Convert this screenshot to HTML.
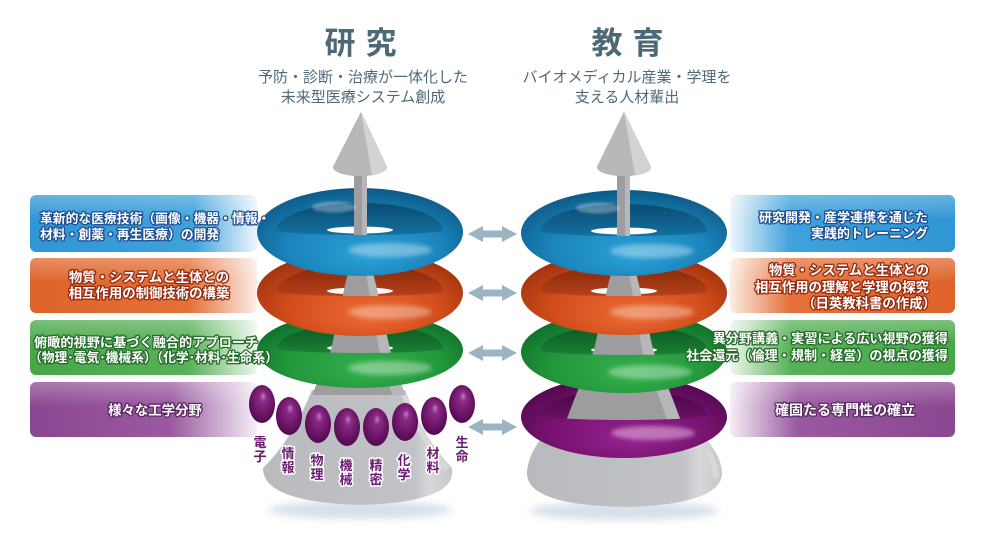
<!DOCTYPE html>
<html><head><meta charset="utf-8">
<style>
html,body{margin:0;padding:0;background:#fff;}
svg{display:block;}
text{font-family:"Liberation Sans","Noto Sans CJK JP",sans-serif;}
.bt{font-weight:bold;fill:#fff;stroke-width:2.6px;paint-order:stroke;stroke-linejoin:round;}
.bl{font-weight:bold;font-size:13px;fill:#6a1a70;stroke:#fff;stroke-width:3px;paint-order:stroke;stroke-linejoin:round;}
</style></head><body>
<svg width="987" height="537" viewBox="0 0 987 537" xmlns="http://www.w3.org/2000/svg">
<defs>
  <filter id="blur2" x="-20%" y="-50%" width="140%" height="200%"><feGaussianBlur stdDeviation="2"/></filter>
  <filter id="blur1" x="-20%" y="-50%" width="140%" height="200%"><feGaussianBlur stdDeviation="1.2"/></filter>
  <filter id="blur4" x="-20%" y="-50%" width="140%" height="200%"><feGaussianBlur stdDeviation="4"/></filter>

  <radialGradient id="tbB" cx=".5" cy=".62" r=".62" fx=".56" fy=".78"><stop offset="0" stop-color="#2ca2d8"/><stop offset=".6" stop-color="#1a85bc"/><stop offset="1" stop-color="#0d5986"/></radialGradient>
  <radialGradient id="tbO" cx=".5" cy=".62" r=".62" fx=".56" fy=".78"><stop offset="0" stop-color="#ee6d36"/><stop offset=".6" stop-color="#d24d1b"/><stop offset="1" stop-color="#9a2f0c"/></radialGradient>
  <radialGradient id="tbG" cx=".5" cy=".62" r=".62" fx=".56" fy=".78"><stop offset="0" stop-color="#38b250"/><stop offset=".6" stop-color="#22983b"/><stop offset="1" stop-color="#0e6a29"/></radialGradient>
  <radialGradient id="tbP" cx=".5" cy=".62" r=".62" fx=".56" fy=".78"><stop offset="0" stop-color="#962390"/><stop offset=".6" stop-color="#791372"/><stop offset="1" stop-color="#50084c"/></radialGradient>

  <linearGradient id="tlB" x1="0" y1="0" x2="0" y2="1"><stop offset="0" stop-color="#0a4b72"/><stop offset="1" stop-color="#13709e"/></linearGradient>
  <linearGradient id="tlO" x1="0" y1="0" x2="0" y2="1"><stop offset="0" stop-color="#842606"/><stop offset="1" stop-color="#b5411a"/></linearGradient>
  <linearGradient id="tlG" x1="0" y1="0" x2="0" y2="1"><stop offset="0" stop-color="#0b5622"/><stop offset="1" stop-color="#1a8034"/></linearGradient>
  <linearGradient id="tlP" x1="0" y1="0" x2="0" y2="1"><stop offset="0" stop-color="#470543"/><stop offset="1" stop-color="#6b1265"/></linearGradient>

  <radialGradient id="bead" cx=".5" cy=".45" r=".6" fx=".55" fy=".28"><stop offset="0" stop-color="#c07dbe"/><stop offset=".22" stop-color="#8a2a86"/><stop offset=".75" stop-color="#63105f"/><stop offset="1" stop-color="#470846"/></radialGradient>

  <linearGradient id="baseG" x1="0" y1="0" x2="1" y2="0"><stop offset="0" stop-color="#b9babd"/><stop offset=".8" stop-color="#c2c3c6"/><stop offset=".88" stop-color="#d8d8db"/><stop offset="1" stop-color="#c6c7ca"/></linearGradient>

  <linearGradient id="bxB" x1="0" y1="0" x2="1" y2="0"><stop offset="0" stop-color="#2f95d4"/><stop offset=".72" stop-color="#3ea2dc"/><stop offset="1" stop-color="#eef6fb"/></linearGradient>
  <linearGradient id="bxO" x1="0" y1="0" x2="1" y2="0"><stop offset="0" stop-color="#de632a"/><stop offset=".7" stop-color="#e47038"/><stop offset="1" stop-color="#fbeee6"/></linearGradient>
  <linearGradient id="bxG" x1="0" y1="0" x2="1" y2="0"><stop offset="0" stop-color="#47a747"/><stop offset=".7" stop-color="#58b158"/><stop offset="1" stop-color="#eef7ee"/></linearGradient>
  <linearGradient id="bxP" x1="0" y1="0" x2="1" y2="0"><stop offset="0" stop-color="#8a4791"/><stop offset=".62" stop-color="#9a59a0"/><stop offset="1" stop-color="#f5eef6"/></linearGradient>

  <linearGradient id="rxB" x1="0" y1="0" x2="1" y2="0"><stop offset="0" stop-color="#eef6fb"/><stop offset=".27" stop-color="#3ea2dc"/><stop offset="1" stop-color="#2f95d4"/></linearGradient>
  <linearGradient id="rxO" x1="0" y1="0" x2="1" y2="0"><stop offset="0" stop-color="#fbeee6"/><stop offset=".27" stop-color="#e47038"/><stop offset="1" stop-color="#de632a"/></linearGradient>
  <linearGradient id="rxG" x1="0" y1="0" x2="1" y2="0"><stop offset="0" stop-color="#eef7ee"/><stop offset=".27" stop-color="#58b158"/><stop offset="1" stop-color="#47a747"/></linearGradient>
  <linearGradient id="rxP" x1="0" y1="0" x2="1" y2="0"><stop offset="0" stop-color="#f5eef6"/><stop offset=".3" stop-color="#9a59a0"/><stop offset="1" stop-color="#8a4791"/></linearGradient>

  <linearGradient id="gloss" x1="0" y1="0" x2="0" y2="1"><stop offset="0" stop-color="#fff" stop-opacity=".28"/><stop offset=".45" stop-color="#fff" stop-opacity="0"/></linearGradient>

  <g id="colL">
    <path d="M354,170 L367,170 L367,250 L376,285 L390,350 L405,395 L312,395 L331,350 L345,285 L354,250 Z" fill="#9d9da0"/>
    <path d="M362,170 L367,170 L367,250 L376,285 L390,350 L405,395 L392,395 L379,350 L368,285 L362,250 Z" fill="#b7b7ba"/>
    <path d="M361,112 L333,167 A27 9 0 0 0 387,167 Z" fill="#b8b8bb"/>
    <path d="M361,112 L372,175 A27 9 0 0 0 387,167 Z" fill="#d3d3d6"/>
  </g>
  <g id="colR">
    <path d="M617,170 L630,170 L630,250 L639,285 L653,350 L673,400 L690,445 L557,445 L574,400 L594,350 L608,285 L617,250 Z" fill="#9d9da0"/>
    <path d="M625,170 L630,170 L630,250 L639,285 L653,350 L673,400 L690,445 L676,445 L660,400 L642,350 L631,285 L625,250 Z" fill="#b7b7ba"/>
    <path d="M624,112 L597,167 A27 9 0 0 0 651,167 Z" fill="#b8b8bb"/>
    <path d="M624,112 L635,175 A27 9 0 0 0 651,167 Z" fill="#d3d3d6"/>
  </g>

  <clipPath id="cL1"><path d="M277,230 A83 5 0 0 0 443,230 L443,0 L277,0 Z"/></clipPath>
  <clipPath id="cL2"><path d="M277,291 A83 5 0 0 0 443,291 L443,0 L277,0 Z"/></clipPath>
  <clipPath id="cL3"><path d="M277,348 A83 5 0 0 0 443,348 L443,0 L277,0 Z"/></clipPath>
  <clipPath id="cR1"><path d="M541,231 A83 5 0 0 0 707,231 L707,0 L541,0 Z"/></clipPath>
  <clipPath id="cR2"><path d="M541,291 A83 5 0 0 0 707,291 L707,0 L541,0 Z"/></clipPath>
  <clipPath id="cR3"><path d="M541,350 A83 5 0 0 0 707,350 L707,0 L541,0 Z"/></clipPath>
  <clipPath id="cR4"><path d="M541,415 A83 5 0 0 0 707,415 L707,0 L541,0 Z"/></clipPath>
</defs>

<!-- Titles -->
<g font-weight="bold" font-size="31" fill="#4d6978">
  <text x="340" y="54" text-anchor="middle">研</text>
  <text x="381" y="54" text-anchor="middle">究</text>
  <text x="607" y="54" text-anchor="middle">教</text>
  <text x="648" y="54" text-anchor="middle">育</text>
</g>
<g font-size="15" fill="#4e6a78" text-anchor="middle">
  <text x="363" y="82">予防・診断・治療が一体化した</text>
  <text x="363" y="102">未来型医療システム創成</text>
  <text x="627" y="82">バイオメディカル産業・学理を</text>
  <text x="627" y="102">支える人材輩出</text>
</g>

<!-- Left boxes -->
<rect x="30" y="195" width="227" height="57" rx="6" fill="url(#bxB)"/>
<rect x="30" y="258" width="227" height="55" rx="6" fill="url(#bxO)"/>
<rect x="30" y="320" width="227" height="55" rx="6" fill="url(#bxG)"/>
<rect x="30" y="382" width="227" height="55" rx="6" fill="url(#bxP)"/>
<rect x="30" y="195" width="227" height="57" rx="6" fill="url(#gloss)"/>
<rect x="30" y="258" width="227" height="55" rx="6" fill="url(#gloss)"/>
<rect x="30" y="320" width="227" height="55" rx="6" fill="url(#gloss)"/>
<rect x="30" y="382" width="227" height="55" rx="6" fill="url(#gloss)"/>

<!-- Right boxes -->
<rect x="730" y="195" width="225" height="57" rx="6" fill="url(#rxB)"/>
<rect x="730" y="258" width="225" height="55" rx="6" fill="url(#rxO)"/>
<rect x="730" y="320" width="225" height="55" rx="6" fill="url(#rxG)"/>
<rect x="730" y="382" width="225" height="55" rx="6" fill="url(#rxP)"/>
<rect x="730" y="195" width="225" height="57" rx="6" fill="url(#gloss)"/>
<rect x="730" y="258" width="225" height="55" rx="6" fill="url(#gloss)"/>
<rect x="730" y="320" width="225" height="55" rx="6" fill="url(#gloss)"/>
<rect x="730" y="382" width="225" height="55" rx="6" fill="url(#gloss)"/>

<!-- Arrows -->
<g fill="#9ab4c1">
  <path d="M468,234 L483,226 L483,230.5 L502,230.5 L502,226 L517,234 L502,242 L502,237.5 L483,237.5 L483,242 Z"/>
  <path d="M468,293 L483,285 L483,289.5 L502,289.5 L502,285 L517,293 L502,301 L502,296.5 L483,296.5 L483,301 Z"/>
  <path d="M468,353 L483,345 L483,349.5 L502,349.5 L502,345 L517,353 L502,361 L502,356.5 L483,356.5 L483,361 Z"/>
  <path d="M468,427 L483,419 L483,423.5 L502,423.5 L502,419 L517,427 L502,435 L502,430.5 L483,430.5 L483,435 Z"/>
</g>

<!-- LEFT STACK -->
<ellipse cx="360" cy="510" rx="92" ry="9" fill="#d6e0ea" filter="url(#blur4)"/>
<path d="M312,390 L405,390 Q 425,440 452,468 Q 458,502 360,505 Q 262,502 263,468 Q 292,440 312,390 Z" fill="url(#baseG)"/>
<path d="M404,395 Q 423,441 447,469" stroke="#d8d8db" stroke-width="6" fill="none"/>
<use href="#colL"/>

<!-- green L -->
<ellipse cx="360" cy="350" rx="103" ry="38" fill="url(#tbG)"/>
<path d="M277,348 A83 24 0 0 1 443,348 A83 5 0 0 1 277,348 Z" fill="url(#tlG)"/>
<ellipse cx="360" cy="348" rx="33" ry="3.5" fill="#fff"/>
<use href="#colL" clip-path="url(#cL3)"/>
<ellipse cx="390" cy="368" rx="42" ry="7" fill="#fff" opacity=".35" filter="url(#blur2)"/>
<ellipse cx="332" cy="327" rx="22" ry="5" fill="#fff" opacity=".25" filter="url(#blur1)"/>

<!-- beads -->
<g fill="url(#bead)">
  <ellipse cx="262" cy="404" rx="13" ry="19"/>
  <ellipse cx="289" cy="416" rx="13" ry="19"/>
  <ellipse cx="318" cy="424" rx="13" ry="19"/>
  <ellipse cx="347" cy="427" rx="13" ry="19"/>
  <ellipse cx="376" cy="427" rx="13" ry="19"/>
  <ellipse cx="405" cy="422" rx="13" ry="19"/>
  <ellipse cx="434" cy="416" rx="13" ry="19"/>
  <ellipse cx="462" cy="404" rx="13" ry="19"/>
</g>
<g class="bl" text-anchor="middle">
  <text x="260" y="447">電</text><text x="260" y="461">子</text>
  <text x="288" y="458">情</text><text x="288" y="472">報</text>
  <text x="317" y="465">物</text><text x="317" y="479">理</text>
  <text x="346" y="470">機</text><text x="346" y="484">械</text>
  <text x="376" y="470">精</text><text x="376" y="484">密</text>
  <text x="404" y="465">化</text><text x="404" y="479">学</text>
  <text x="433" y="458">材</text><text x="433" y="472">料</text>
  <text x="462" y="447">生</text><text x="462" y="461">命</text>
</g>

<!-- orange L -->
<ellipse cx="360" cy="293" rx="103" ry="43" fill="url(#tbO)"/>
<path d="M277,291 A83 27 0 0 1 443,291 A83 5 0 0 1 277,291 Z" fill="url(#tlO)"/>
<ellipse cx="360" cy="291" rx="33" ry="3.5" fill="#fff"/>
<use href="#colL" clip-path="url(#cL2)"/>
<ellipse cx="390" cy="312" rx="42" ry="7" fill="#fff" opacity=".33" filter="url(#blur2)"/>
<ellipse cx="332" cy="268" rx="22" ry="5" fill="#fff" opacity=".22" filter="url(#blur1)"/>

<!-- blue L -->
<ellipse cx="360" cy="232" rx="103" ry="44" fill="url(#tbB)"/>
<path d="M277,230 A83 27 0 0 1 443,230 A83 5 0 0 1 277,230 Z" fill="url(#tlB)"/>
<ellipse cx="360" cy="230" rx="33" ry="3.5" fill="#fff"/>
<use href="#colL" clip-path="url(#cL1)"/>
<ellipse cx="390" cy="250" rx="42" ry="7" fill="#fff" opacity=".35" filter="url(#blur2)"/>
<ellipse cx="334" cy="207" rx="22" ry="5.5" fill="#fff" opacity=".3" filter="url(#blur1)"/>

<!-- RIGHT STACK -->
<ellipse cx="624" cy="511" rx="95" ry="9" fill="#d6e0ea" filter="url(#blur4)"/>
<path d="M540,440 L707,440 Q 722,458 722,474 Q 720,505 624,507 Q 528,505 527,474 Q 527,458 540,440 Z" fill="url(#baseG)"/>
<path d="M706,450 Q 716,462 716,478" stroke="#d8d8db" stroke-width="6" fill="none"/>
<use href="#colR"/>

<!-- purple R -->
<ellipse cx="624" cy="417" rx="103" ry="41" fill="url(#tbP)"/>
<path d="M541,415 A83 25 0 0 1 707,415 A83 5 0 0 1 541,415 Z" fill="url(#tlP)"/>
<use href="#colR" clip-path="url(#cR4)"/>
<ellipse cx="653" cy="433" rx="42" ry="7" fill="#f0c8ee" opacity=".5" filter="url(#blur2)"/>

<!-- green R -->
<ellipse cx="624" cy="352" rx="103" ry="41" fill="url(#tbG)"/>
<path d="M541,350 A83 25 0 0 1 707,350 A83 5 0 0 1 541,350 Z" fill="url(#tlG)"/>
<ellipse cx="624" cy="350" rx="33" ry="3.5" fill="#fff"/>
<use href="#colR" clip-path="url(#cR3)"/>
<ellipse cx="650" cy="372" rx="42" ry="7" fill="#fff" opacity=".35" filter="url(#blur2)"/>

<!-- orange R -->
<ellipse cx="624" cy="293" rx="103" ry="42" fill="url(#tbO)"/>
<path d="M541,291 A83 26 0 0 1 707,291 A83 5 0 0 1 541,291 Z" fill="url(#tlO)"/>
<ellipse cx="624" cy="291" rx="33" ry="3.5" fill="#fff"/>
<use href="#colR" clip-path="url(#cR2)"/>
<ellipse cx="652" cy="312" rx="42" ry="7" fill="#fff" opacity=".33" filter="url(#blur2)"/>
<ellipse cx="596" cy="268" rx="22" ry="5" fill="#fff" opacity=".22" filter="url(#blur1)"/>

<!-- blue R -->
<ellipse cx="624" cy="233" rx="103" ry="43" fill="url(#tbB)"/>
<path d="M541,231 A83 27 0 0 1 707,231 A83 5 0 0 1 541,231 Z" fill="url(#tlB)"/>
<ellipse cx="624" cy="231" rx="33" ry="3.5" fill="#fff"/>
<use href="#colR" clip-path="url(#cR1)"/>
<ellipse cx="652" cy="251" rx="42" ry="7" fill="#fff" opacity=".35" filter="url(#blur2)"/>
<ellipse cx="598" cy="208" rx="22" ry="5.5" fill="#fff" opacity=".3" filter="url(#blur1)"/>

<!-- Box texts left -->
<g class="bt" stroke="#1d4f94" font-size="12.8">
  <text x="40" y="223">革新的な医療技術（画像・機器・情報・</text>
  <text x="40" y="239">材料・創薬・再生医療）の開発</text>
</g>
<g class="bt" stroke="#952b10" font-size="13.4" text-anchor="middle">
  <text x="149" y="282">物質・システムと生体との</text>
  <text x="149" y="298">相互作用の制御技術の構築</text>
</g>
<g class="bt" stroke="#236a28" font-size="13.2">
  <text x="34" y="347">俯瞰的視野に基づく融合的アプローチ</text>
  <text x="29" y="362" textLength="249" lengthAdjust="spacingAndGlyphs">（物理･電気･機械系）（化学･材料･生命系）</text>
</g>
<g class="bt" stroke="#5a2862" font-size="13.4" text-anchor="middle">
  <text x="155" y="415">様々な工学分野</text>
</g>

<!-- Box texts right -->
<g class="bt" stroke="#1d4f94" font-size="13" text-anchor="end">
  <text x="928" y="222">研究開発・産学連携を通じた</text>
  <text x="928" y="238">実践的トレーニング</text>
</g>
<g class="bt" stroke="#952b10" font-size="13.4" text-anchor="end">
  <text x="929" y="275">物質・システムと生体との</text>
  <text x="929" y="292">相互作用の理解と学理の探究</text>
  <text x="936" y="308">（日英教科書の作成）</text>
</g>
<g class="bt" stroke="#236a28" font-size="13.1" text-anchor="end">
  <text x="948" y="343">異分野講義・実習による広い視野の獲得</text>
  <text x="948" y="360">社会還元（倫理・規制・経営）の視点の獲得</text>
</g>
<g class="bt" stroke="#5a2862" font-size="14" text-anchor="middle">
  <text x="845" y="415">確固たる専門性の確立</text>
</g>
</svg>
</body></html>
